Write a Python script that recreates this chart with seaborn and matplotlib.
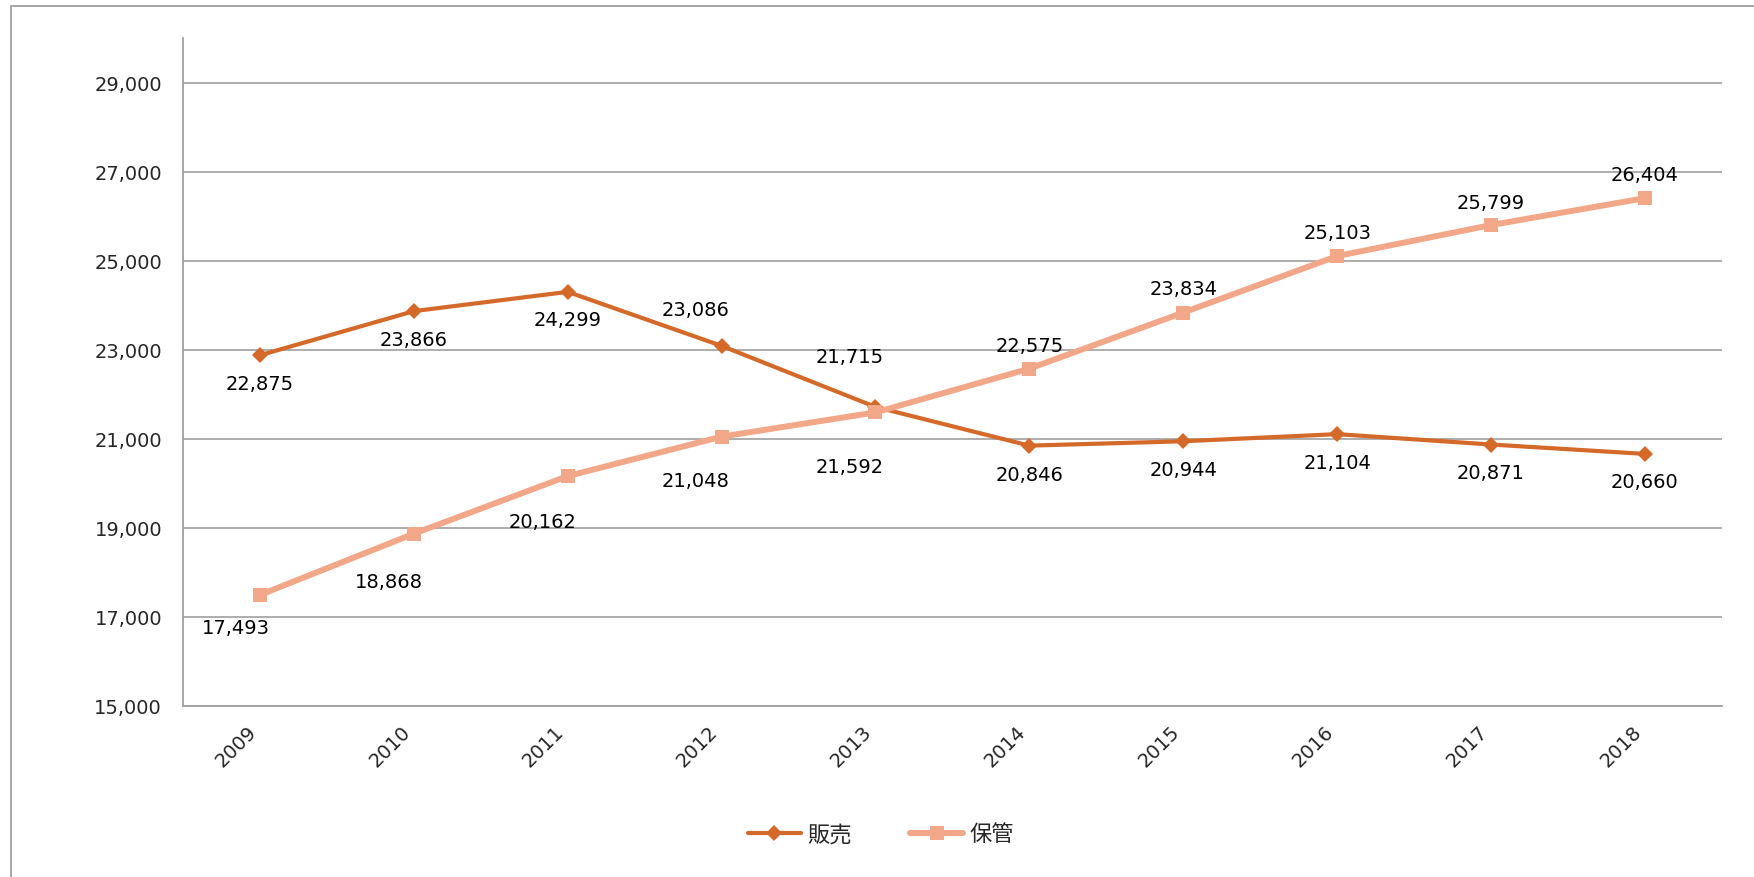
import matplotlib
matplotlib.use('Agg')
import matplotlib.pyplot as plt
from matplotlib.patches import Rectangle
from matplotlib.lines import Line2D
from matplotlib.ticker import FuncFormatter
import seaborn as sns
import pandas as pd
import numpy as np

# DATA
years = ['2009', '2010', '2011', '2012', '2013', '2014', '2015', '2016', '2017', '2018']
hanbai = [22875, 23866, 24299, 23086, 21715, 20846, 20944, 21104, 20871, 20660]
hokan = [17493, 18868, 20162, 21048, 21592, 22575, 23834, 25103, 25799, 26404]
series_names = ['販売', '保管']
y_ticks = [15000, 17000, 19000, 21000, 23000, 25000, 27000, 29000]

# label placement (pixel offsets from each point)
hanbai_dx = [0, 0, 0, -26, -26, 0, 0, 0, 0, 0]
hanbai_dy = [-28, -28, -28, 36, 50, -29, -28, -28, -28, -28]
hokan_dx = [-24, -25, -25, -26, -26, 0, 0, 0, 0, 0]
hokan_dy = [-33, -48, -45, -44, -54, 23, 24, 24, 23, 24]

c_hanbai = '#D4692A'
c_hokan = '#F1A788'
grey = '#A0A0A0'

sns.set_style('white')
plt.rcParams['font.family'] = ['DejaVu Sans', 'Noto Sans CJK JP']

df = pd.DataFrame({'year': years, series_names[0]: hanbai, series_names[1]: hokan})

fig = plt.figure(figsize=(17.54, 8.78), dpi=100)
ax = fig.add_axes([0.1043, 0.1948, 0.8774, 0.7608])

# outer chart frame (cut off at right / bottom)
fig.add_artist(Rectangle((11 / 1754, -0.2), 2.0, 0.2 + 871 / 878, transform=fig.transFigure,
                         fill=False, edgecolor=grey, linewidth=1.3))

sns.lineplot(data=df, x='year', y=series_names[0], ax=ax, color=c_hanbai, linewidth=3.0,
             marker='D', markersize=8, markeredgewidth=0, sort=False)
sns.lineplot(data=df, x='year', y=series_names[1], ax=ax, color=c_hokan, linewidth=4.3,
             marker='s', markersize=10, markeredgewidth=0, sort=False)

# data labels
for vals, dxs, dys in [(hanbai, hanbai_dx, hanbai_dy), (hokan, hokan_dx, hokan_dy)]:
    for i, v in enumerate(vals):
        ax.annotate(f'{v:,}', (i, v), xytext=(dxs[i], dys[i]), textcoords='offset pixels',
                    ha='center', va='center', fontsize=14, color='black')

ax.set_xlim(-0.5, len(years) - 0.5)
ax.set_ylim(15000, 30000)
ax.set_yticks(y_ticks)
ax.yaxis.set_major_formatter(FuncFormatter(lambda x, p: f'{x:,.0f}'))
ax.set_xticks(range(len(years)))
ax.set_xticklabels(years, rotation=45, ha='right', va='top')
ax.set_xticks(np.arange(-0.5, len(years), 1), minor=True)
ax.tick_params(axis='x', which='major', length=0, pad=11, labelsize=14)
ax.tick_params(axis='x', which='minor', length=6, color=grey, width=1.2, direction='out')
ax.tick_params(axis='y', length=6, color=grey, width=1.2, direction='out', pad=9, labelsize=14)
ax.set_xlabel('')
ax.set_ylabel('')

ax.yaxis.grid(True, color=grey, linewidth=1.2)
ax.xaxis.grid(False)
for s in ['top', 'right']:
    ax.spines[s].set_visible(False)
for s in ['left', 'bottom']:
    ax.spines[s].set_color(grey)
    ax.spines[s].set_linewidth(1.3)

handles = [Line2D([], [], color=c_hanbai, linewidth=3.0, marker='D', markersize=8, markeredgewidth=0),
           Line2D([], [], color=c_hokan, linewidth=4.3, marker='s', markersize=10, markeredgewidth=0)]
fig.legend(handles, series_names, loc='center', bbox_to_anchor=(881 / 1754, 1 - 835 / 878),
           ncol=2, frameon=False, fontsize=16, handlelength=2.4, handletextpad=0.3,
           columnspacing=2.6)

fig.savefig('out.png', dpi=100, facecolor='white')
